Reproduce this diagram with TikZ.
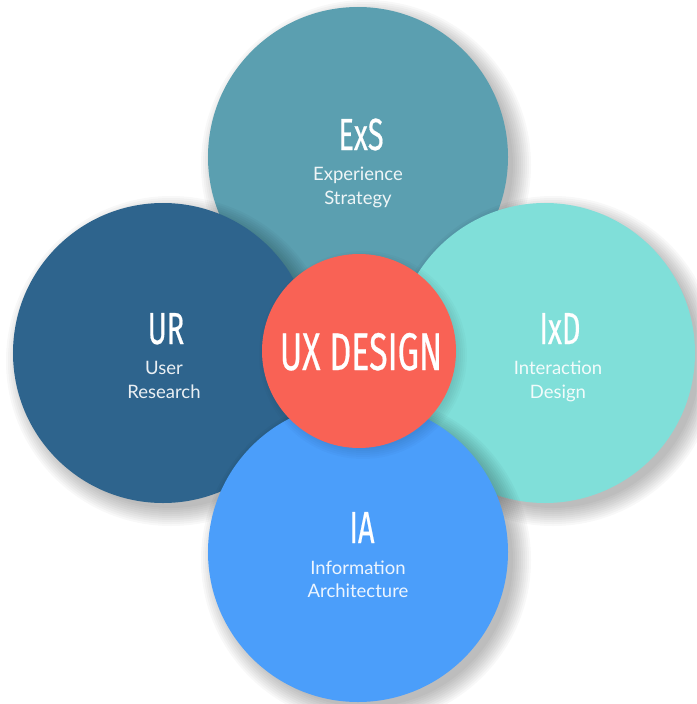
\documentclass[tikz,border=0pt]{standalone}
\usepackage{fontspec}
\setmainfont{Lato}
\newfontfamily\condfont[FakeStretch=0.64,FakeBold=0.4]{Fira Sans}
\definecolor{exscol}{HTML}{5B9FB0}
\definecolor{urcol}{HTML}{2E648D}
\definecolor{ixdcol}{HTML}{80DFD9}
\definecolor{iacol}{HTML}{4B9EFA}
\definecolor{uxcol}{HTML}{F96255}
\begin{document}
\begin{tikzpicture}[x=1pt,y=-1pt,
  bubble/.style={circle,inner sep=0pt,minimum size=300pt},
  core/.style={circle,inner sep=0pt,minimum size=194pt,fill=uxcol},
  abbr/.style={anchor=base,text=white,font=\condfont\fontsize{45}{45}\selectfont,inner sep=0pt},
  big/.style={anchor=base,text=white,font=\condfont\fontsize{53}{53}\selectfont,inner sep=0pt},
  sub/.style={anchor=base,text=white,text opacity=0.9,font=\fontsize{18.5}{18.5}\selectfont,inner sep=0pt}]
\useasboundingbox (0,0) rectangle (696,704);
\fill[white] (0,0) rectangle (696,704);
\newcommand\softshadow[3]{%
  \foreach \d in {-3,-1,...,15}{\fill[black,opacity=0.026] (#1+8,#2+8) circle[radius=#3+\d];}}
% ExS
\softshadow{358}{157}{150}
\node[bubble,fill=exscol] (exs) at (358,157) {};
% UR
\softshadow{163}{353}{150}
\node[bubble,fill=urcol] (ur) at (163,353) {};
% IxD
\softshadow{545}{353}{150}
\node[bubble,fill=ixdcol] (ixd) at (545,353) {};
% IA
\softshadow{358}{552}{150}
\node[bubble,fill=iacol] (ia) at (358,552) {};
% center
\foreach \d in {-3,-1,...,7}{\fill[black,opacity=0.02] (363,355) circle[radius=97+\d];}
\node[core] (ux) at (359,351) {};
% texts
\node[abbr] (exsl) at (361,150) {ExS};
\node[sub] (exs1) at (358,180) {Experience};
\node[sub] (exs2) at (358,204) {Strategy};
\node[abbr] (url) at (166,344) {UR};
\node[sub] (ur1) at (164,374) {User};
\node[sub] (ur2) at (164,398) {Research};
\node[abbr] (ixdl) at (560,344) {IxD};
\node[sub] (ixd1) at (558,374) {Interaction};
\node[sub] (ixd2) at (558,398) {Design};
\node[abbr] (ial) at (362,543) {IA};
\node[sub] (ia1) at (358,574) {Information};
\node[sub] (ia2) at (358,597) {Architecture};
\node[big] (uxl) at (361,370) {UX DESIGN};
\end{tikzpicture}
\end{document}
